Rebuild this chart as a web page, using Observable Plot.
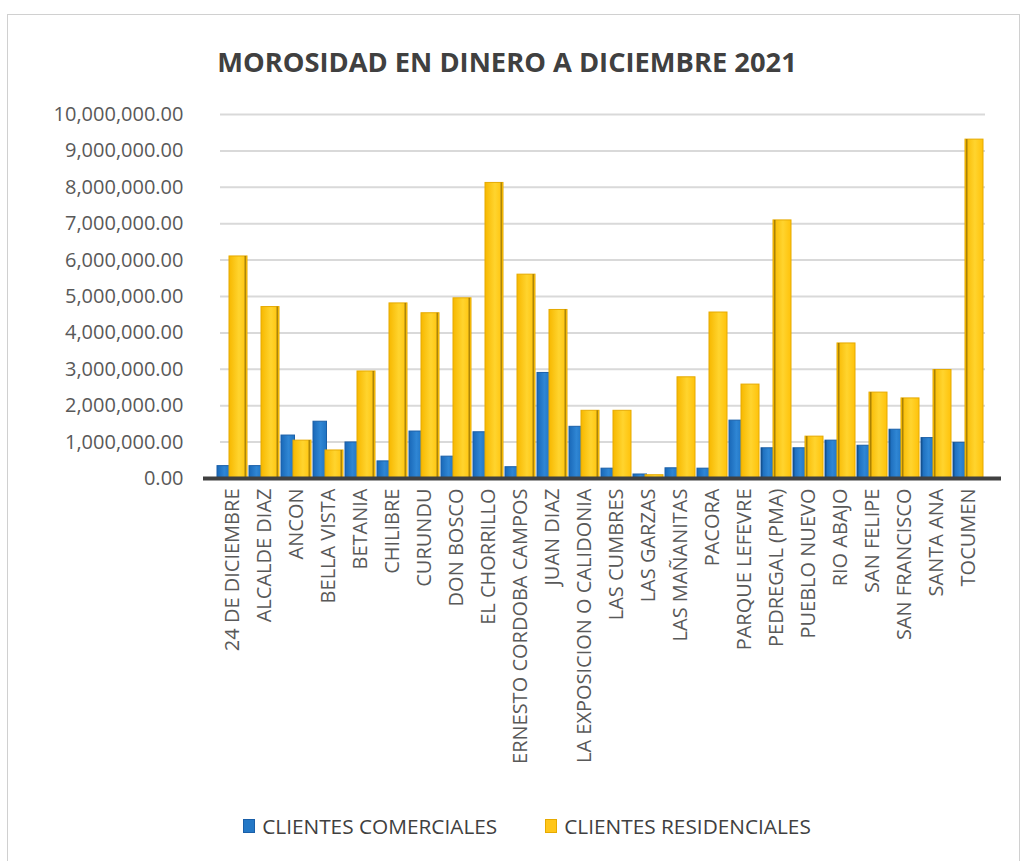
<!DOCTYPE html>
<html>
<head>
<meta charset="utf-8">
<script src="https://cdn.jsdelivr.net/npm/d3@7"></script>
<script src="https://cdn.jsdelivr.net/npm/@observablehq/plot@0.6"></script>
<style>
  html, body { margin: 0; padding: 0; background: #fff; }
  body { width: 1026px; height: 861px; position: relative; overflow: hidden; font-family: "Open Sans", "Noto Sans", sans-serif; }
  #frame { position: absolute; left: 7px; top: 14px; width: 1013px; height: 860px; border: 1px solid #d0d0d0; box-sizing: border-box; }
  #title { position: absolute; left: 0; top: 43px; width: 1014px; text-align: center; font-size: 27.3px; font-weight: 700; color: #404040; line-height: 38px; z-index: 2; }
  #chart { position: absolute; left: 0; top: 0; z-index: 1; }
  #legend { position: absolute; left: 0; top: 812px; width: 1054px; display: flex; justify-content: center; align-items: center; font-size: 20.8px; color: #404040; z-index: 2; }
  .sw { display: inline-block; width: 12px; height: 14px; margin-right: 7px; box-sizing: border-box; }
  .item { display: flex; align-items: center; margin: 0 24px; }
  .item + .item { margin-left: 24px; }
</style>
</head>
<body>
<div id="frame"></div>
<div id="title">MOROSIDAD EN DINERO A DICIEMBRE 2021</div>
<div id="chart"></div>
<div id="legend"></div>
<script>
const categories = ["24 DE DICIEMBRE", "ALCALDE DIAZ", "ANCON", "BELLA VISTA", "BETANIA", "CHILIBRE", "CURUNDU", "DON BOSCO", "EL CHORRILLO", "ERNESTO CORDOBA CAMPOS", "JUAN DIAZ", "LA EXPOSICION O CALIDONIA", "LAS CUMBRES", "LAS GARZAS", "LAS MAÑANITAS", "PACORA", "PARQUE LEFEVRE", "PEDREGAL (PMA)", "PUEBLO NUEVO", "RIO ABAJO", "SAN FELIPE", "SAN FRANCISCO", "SANTA ANA", "TOCUMEN"];
const comerciales = [340000, 340000, 1180000, 1560000, 990000, 470000, 1290000, 600000, 1270000, 310000, 2900000, 1420000, 270000, 110000, 280000, 270000, 1590000, 830000, 830000, 1040000, 900000, 1340000, 1110000, 980000];
const residenciales = [6100000, 4710000, 1040000, 770000, 2940000, 4810000, 4540000, 4950000, 8120000, 5600000, 4630000, 1860000, 1860000, 90000, 2780000, 4560000, 2580000, 7090000, 1150000, 3710000, 2360000, 2200000, 2980000, 9310000];
const seriesNames = ["CLIENTES COMERCIALES", "CLIENTES RESIDENCIALES"];
const yTicks = d3.range(0, 10000001, 1000000);

const rows = categories.map((c, i) => ({cat: c, com: comerciales[i], res: residenciales[i], i}));

const plot = Plot.plot({
  width: 1026,
  height: 800,
  marginTop: 114,
  marginBottom: 322,
  marginLeft: 210,
  marginRight: 36,
  style: {fontSize: "20px", fontFamily: "Open Sans, Noto Sans, sans-serif", color: "#595959", background: "transparent"},
  x: {domain: categories, padding: 0, tickSize: 0, tickPadding: 10, tickRotate: -90, label: null},
  y: {domain: [0, 10000000], ticks: yTicks, tickFormat: d3.format(",.2f"), tickSize: 0, tickPadding: 27, label: null},
  marks: [
    Plot.ruleY(yTicks.slice(1), {stroke: "#d9d9d9", strokeWidth: 2, insetLeft: 10, insetRight: 5}),
    Plot.barY(rows, {x: "cat", y: "com", fill: "url(#gradB)", stroke: "#1a5fa8", strokeWidth: 1, insetLeft: 1, insetRight: 17.5}),
    Plot.barY(rows, {x: "cat", y: "res", fill: "url(#gradY)", stroke: "#e6aa00", strokeWidth: 1, insetLeft: 13, insetRight: 1}),
    Plot.barY(rows, {filter: d => d.i < 12, x: "cat", y: "res", fill: "#6b5200", fillOpacity: 0.55, insetLeft: 28.5, insetRight: 2}),
    Plot.barY(rows, {filter: d => d.i >= 17, x: "cat", y: "res", fill: "#6b5200", fillOpacity: 0.55, insetLeft: 14, insetRight: 16.5}),
    Plot.barY(rows, {filter: d => d.i >= 17, x: "cat", y: "com", fill: "#0d3f73", fillOpacity: 0.5, insetLeft: 1, insetRight: 29.5}),
    Plot.ruleY([0], {stroke: "#404040", strokeWidth: 4, insetLeft: -7, insetRight: -11})
  ]
});

const ns = "http://www.w3.org/2000/svg";
const defs = document.createElementNS(ns, "defs");
defs.innerHTML = `
  <linearGradient id="gradY" x1="0" x2="1" y1="0" y2="0">
    <stop offset="0" stop-color="#f7b800"/>
    <stop offset="0.55" stop-color="#ffd42e"/>
    <stop offset="1" stop-color="#ffc20a"/>
  </linearGradient>
  <linearGradient id="gradB" x1="0" x2="1" y1="0" y2="0">
    <stop offset="0" stop-color="#1968b8"/>
    <stop offset="0.55" stop-color="#2f86d4"/>
    <stop offset="1" stop-color="#1f73c2"/>
  </linearGradient>`;
plot.insertBefore(defs, plot.firstChild);
document.getElementById("chart").appendChild(plot);

const colors = ["#2478c6", "#ffc61a"];
const strokes = ["#1a5fa8", "#e6aa00"];
const legend = document.getElementById("legend");
seriesNames.forEach((name, k) => {
  const it = document.createElement("div");
  it.className = "item";
  it.innerHTML = `<span class="sw" style="background:${colors[k]};border:1px solid ${strokes[k]}"></span><span>${name}</span>`;
  legend.appendChild(it);
});
</script>
</body>
</html>
